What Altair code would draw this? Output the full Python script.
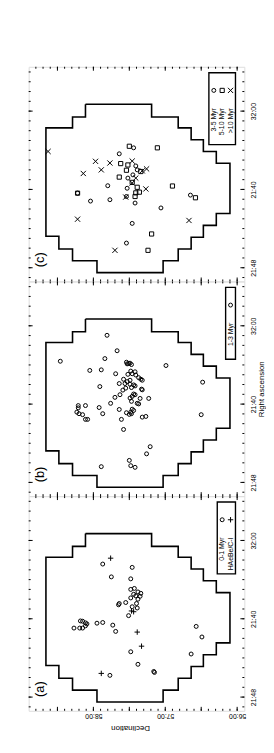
import altair as alt
import pandas as pd

# ---------------- scales / axes ----------------
DEC_DOMAIN = [55.9, 58.9]          # degrees (Declination)
RA_DOMAIN = [27.47, 49.4]          # minutes of RA past 21h
W, H = 219, 218

dec_tick_values = [56, 57, 58]
dec_tick_labels = ["56:00", "57:00", "58:00"]
ra_tick_values = [32, 40, 48]
ra_tick_labels = ["32:00", "21:40", "21:48"]
dec_minor = [round(56.0 + 0.1 * i, 1) for i in range(29)]
dec_major = [56.0, 56.5, 57.0, 57.5, 58.0, 58.5]
ra_minor = list(range(28, 50))
ra_major = [32, 40, 48]

# ---------------- survey footprint ----------------
fp_dec = [58.11, 57.19, 57.19, 56.82, 56.82, 56.64, 56.64, 56.47, 56.47, 56.29, 56.29, 56.10,
          56.10, 56.29, 56.29, 56.47, 56.47, 56.64, 56.64, 56.82, 56.82, 57.03, 57.03, 57.95,
          57.95, 58.29, 58.29, 58.48, 58.48, 58.66, 58.66, 58.29, 58.29, 58.11, 58.11]
fp_ra = [31.30, 31.30, 32.60, 32.60, 33.71, 33.71, 34.92, 34.92, 36.12, 36.12, 37.33, 37.33,
         42.46, 42.46, 43.67, 43.67, 44.88, 44.88, 46.08, 46.08, 47.29, 47.29, 48.50, 48.50,
         47.29, 47.29, 46.08, 46.08, 44.78, 44.78, 33.71, 33.71, 32.60, 32.60, 31.30]

# ---------------- panel (a) ----------------
a_circ_ra = [34.41, 34.75, 35.72, 35.92, 37.0, 36.9, 37.26, 37.4, 37.5, 37.66, 37.87, 37.7, 38.0,
             38.34, 38.44, 38.57, 38.77, 38.9, 38.44, 39.68, 40.22, 40.25, 40.42, 40.52, 40.72,
             40.95, 40.95, 40.95, 40.45, 40.38, 40.65, 41.29, 43.37, 44.65, 45.38, 45.48, 45.78,
             40.78, 41.86, 43.6]
a_circ_dec = [57.87, 57.46, 57.75, 57.48, 57.48, 57.43, 57.38, 57.34, 57.44, 57.41, 57.48, 57.35, 57.38,
              57.55, 57.64, 57.65, 57.46, 57.39, 57.40, 57.51, 58.18, 58.15, 58.11, 58.09, 58.11,
              58.15, 58.19, 58.27, 57.95, 57.87, 57.73, 57.69, 57.48, 57.38, 57.16, 57.15, 57.77,
              56.57, 56.49, 56.64]
a_plus_ra = [33.81, 39.2, 39.28, 41.36, 42.8, 45.58]
a_plus_dec = [57.76, 57.47, 57.44, 57.39, 57.33, 57.89]

# ---------------- panel (b) ----------------
b_circ_ra = [32.97, 34.55, 35.62, 35.35, 35.72, 35.86, 35.82, 35.89, 35.96, 36.06, 36.56, 36.5,
             36.9, 36.63, 36.7, 36.9, 37.03, 36.96, 37.46, 37.56, 37.7, 37.46, 37.3, 37.56,
             37.9, 37.9, 37.97, 38.04, 38.14, 38.31, 37.76, 38.21, 38.37, 38.57, 38.54, 38.47,
             39.04, 39.31, 38.97, 39.21, 39.38, 39.04, 39.42, 39.42, 39.92, 39.72, 39.92, 39.98,
             40.15, 40.38, 40.15, 40.35, 40.55, 40.52, 40.65, 40.82, 40.88, 40.98, 41.05, 40.82,
             40.98, 41.08, 40.98, 41.33, 41.26, 41.08, 41.56, 41.56, 41.56, 42.59, 44.35, 45.08,
             45.75, 46.39, 46.29, 46.46]
b_circ_dec = [57.81, 57.67, 58.46, 57.84, 57.54, 57.51, 57.49, 57.53, 57.47, 56.99, 58.05, 57.89,
              57.69, 57.48, 57.42, 57.46, 57.41, 57.52, 57.58, 57.49, 57.53, 57.34, 57.37, 57.32,
              57.64, 57.56, 57.49, 57.44, 57.42, 57.47, 56.48, 57.91, 57.55, 57.59, 57.32, 57.33,
              57.63, 57.70, 57.44, 57.46, 57.49, 57.42, 57.35, 57.23, 57.76, 57.47, 57.39, 57.37,
              58.21, 58.21, 58.11, 57.92, 57.64, 57.46, 57.44, 57.48, 57.54, 57.47, 57.50, 58.23,
              58.20, 58.15, 57.87, 57.32, 57.27, 56.50, 57.61, 58.11, 58.08, 57.58, 57.21, 57.26,
              57.50, 57.89, 57.48, 57.42]

# ---------------- panel (c) ----------------
c_circ_ra = [36.36, 35.75, 39.62, 39.88, 38.84, 37.6, 38.0, 38.51, 41.19, 41.05, 40.72, 41.39,
             41.89, 40.58, 43.47, 45.48, 40.38]
c_circ_dec = [57.64, 57.44, 57.80, 57.53, 57.52, 57.41, 57.39, 57.45, 58.04, 57.77, 57.54, 57.42,
              57.06, 56.65, 57.46, 57.54, 58.22]
c_sq_ra = [35.59, 35.75, 37.36, 37.5, 38.04, 38.17, 38.74, 39.28, 39.78, 40.35, 40.28, 40.72,
           39.65, 40.38, 40.85, 44.55, 46.22]
c_sq_dec = [57.50, 57.11, 57.62, 57.52, 57.54, 57.34, 57.64, 57.46, 57.39, 57.41, 57.36, 57.42,
            56.90, 58.22, 56.58, 57.19, 57.24]
c_x_ra = [36.12, 37.13, 37.3, 38.0, 38.37, 37.1, 37.9, 38.1, 38.84, 39.34, 39.95, 40.78,
          43.04, 43.17, 46.22]
c_x_dec = [58.63, 57.97, 57.77, 57.89, 58.14, 57.46, 57.26, 57.32, 57.41, 57.46, 57.27, 57.55,
           58.22, 56.67, 57.70]

# ---------------- legends ----------------
legend_a = ["0-1 Myr", "HAeBe/C-I"]
legend_b = ["1-3 Myr"]
legend_c = ["3-5 Myr", "5-10 Myr", ">10 Myr"]

PLUS = "M-1,0L1,0M0,-1L0,1"
CROSS = "M-1,-1L1,1M-1,1L1,-1"
SYM = {
    "circle": dict(shape="circle", size=16),
    "square": dict(shape="square", size=18),
    "plus": dict(shape=PLUS, size=30),
    "cross": dict(shape=CROSS, size=28),
}
FONT = "Liberation Sans"


def label_expr(vals, labels):
    parts = [f"datum.value == {v} ? '{t}'" for v, t in zip(vals, labels)]
    return " : ".join(parts) + " : ''"


def one():
    return pd.DataFrame({"k": [0]})


def panel(tag, series, legend, dec_axis, ra_title):
    xs = alt.Scale(domain=DEC_DOMAIN, reverse=True, nice=False, zero=False)
    ys = alt.Scale(domain=RA_DOMAIN, reverse=True, nice=False, zero=False)
    if dec_axis:
        xa = alt.Axis(orient="bottom", values=dec_tick_values,
                      labelExpr=label_expr(dec_tick_values, dec_tick_labels),
                      labelAngle=180, labelAlign="center", labelBaseline="bottom",
                      labelPadding=2, labelFontSize=7, labelFont=FONT, labelColor="black",
                      labelFlush=False, labelOverlap=False,
                      ticks=False, tickSize=0, domain=False, grid=False,
                      title="Declination", titleAngle=180, titleBaseline="bottom",
                      titleFontSize=8, titleFont=FONT, titleFontWeight="normal",
                      titleColor="black", titlePadding=4, titleX=103)
        X = alt.X("dec:Q", scale=xs, axis=xa)
    else:
        X = alt.X("dec:Q", scale=xs, axis=None)
    ya_kw = dict(orient="right", values=ra_tick_values,
                 labelExpr=label_expr(ra_tick_values, ra_tick_labels),
                 labelAngle=270, labelAlign="center", labelBaseline="top",
                 labelPadding=5, labelFontSize=7, labelFont=FONT, labelColor="black",
                 labelFlush=False, labelOverlap=False,
                 ticks=False, tickSize=0, domain=False, grid=False)
    if ra_title:
        ya = alt.Axis(title="Right ascension", titleAngle=270, titleBaseline="top",
                      titleFontSize=8, titleFont=FONT, titleFontWeight="normal",
                      titleColor="black", titlePadding=1, **ya_kw)
    else:
        ya = alt.Axis(title=None, **ya_kw)
    Y = alt.Y("ra:Q", scale=ys, axis=ya)

    layers = []
    fp = pd.DataFrame({"dec": fp_dec, "ra": fp_ra, "i": list(range(len(fp_dec)))})
    layers.append(alt.Chart(fp).mark_line(color="black", strokeWidth=1.6).encode(
        x=X, y=Y, order=alt.Order("i:Q")))

    # inward ticks on the four sides
    for vals, ln in ((dec_minor, 2), (dec_major, 4)):
        d = pd.DataFrame({"dec": vals})
        layers.append(alt.Chart(d).mark_rule(color="black", strokeWidth=1).encode(
            x=X, y=alt.value(0), y2=alt.value(ln)))
        layers.append(alt.Chart(d).mark_rule(color="black", strokeWidth=1).encode(
            x=X, y=alt.value(H), y2=alt.value(H - ln)))
    for vals, ln in ((ra_minor, 2), (ra_major, 4)):
        d = pd.DataFrame({"ra": vals})
        layers.append(alt.Chart(d).mark_rule(color="black", strokeWidth=1).encode(
            y=Y, x=alt.value(0), x2=alt.value(ln)))
        layers.append(alt.Chart(d).mark_rule(color="black", strokeWidth=1).encode(
            y=Y, x=alt.value(W), x2=alt.value(W - ln)))

    # sources
    for ra, dec, sym in series:
        d = pd.DataFrame({"dec": dec, "ra": ra})
        layers.append(alt.Chart(d).mark_point(filled=False, stroke="black", strokeWidth=1,
                                              opacity=1, **SYM[sym]).encode(x=X, y=Y))

    # legend box
    right, step = 210, 8.5
    n = len(legend)
    rows_x = [right - 5 - (n - 1 - i) * step for i in range(n)]
    layers.append(alt.Chart(one()).mark_rect(fill="white", stroke="black", strokeWidth=1.4).encode(
        x=alt.value(rows_x[0] - 5), x2=alt.value(right), y=alt.value(6), y2=alt.value(79)))
    for (txt, sym), xr in zip(legend, rows_x):
        layers.append(alt.Chart(one()).mark_point(filled=False, stroke="black", strokeWidth=1,
                                                  opacity=1, **SYM[sym]).encode(
            x=alt.value(xr), y=alt.value(24)))
        layers.append(alt.Chart(one()).mark_text(angle=270, align="right", baseline="middle",
                                                 fontSize=7, font=FONT, color="black").encode(
            x=alt.value(xr), y=alt.value(42), text=alt.value(txt)))

    # panel tag
    layers.append(alt.Chart(one()).mark_text(angle=270, align="center", baseline="middle",
                                             fontSize=13, font=FONT, color="black").encode(
        x=alt.value(12), y=alt.value(196), text=alt.value(tag)))

    return alt.layer(*layers).properties(width=W, height=H)


pa = panel("(a)",
           [(a_circ_ra, a_circ_dec, "circle"), (a_plus_ra, a_plus_dec, "plus")],
           [(legend_a[0], "circle"), (legend_a[1], "plus")],
           dec_axis=True, ra_title=False)
pb = panel("(b)",
           [(b_circ_ra, b_circ_dec, "circle")],
           [(legend_b[0], "circle")],
           dec_axis=False, ra_title=True)
pc = panel("(c)",
           [(c_circ_ra, c_circ_dec, "circle"), (c_sq_ra, c_sq_dec, "square"),
            (c_x_ra, c_x_dec, "cross")],
           [(legend_c[0], "circle"), (legend_c[1], "square"), (legend_c[2], "cross")],
           dec_axis=False, ra_title=False)

chart = alt.vconcat(pc, pb, pa, spacing=0, bounds="flush").properties(
    padding={"left": 20, "top": 53, "right": 0, "bottom": 4}
).configure_view(stroke="black", strokeWidth=1).configure(font=FONT, background="white")

chart.save("out.html", embed_options={"renderer": "svg", "actions": False})
